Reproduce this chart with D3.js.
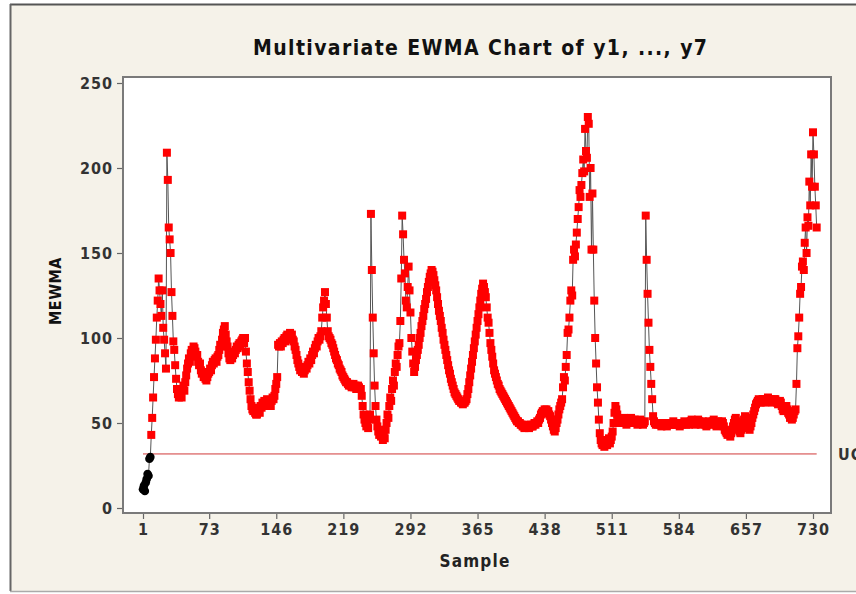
<!DOCTYPE html>
<html><head><meta charset="utf-8">
<script src="https://cdn.jsdelivr.net/npm/d3@7/dist/d3.min.js"></script>
<style>body{margin:0;background:#fff;} svg{display:block}</style>
</head><body>
<svg id="c" width="856" height="594"></svg>
<script>
const chartTitle = "Multivariate EWMA Chart of y1, ..., y7";
const xLabel = "Sample";
const yLabel = "MEWMA";
const uclLabel = "UCL=31.8";
const ucl = 31.8;
const xTicks = [1, 73, 146, 219, 292, 365, 438, 511, 584, 657, 730];
const yTicks = [0, 50, 100, 150, 200, 250];

// MEWMA statistic, samples 1..734
const mewma = [
  11, 13, 10, 15, 17, 20, 19, 29, 30,
  43, 53, 65, 77, 88,
  99, 112, 122, 135, 128, 120, 113, 128, 106, 99, 91, 82,
  209, 193, 165, 158, 150, 127, 113, 98, 93, 84, 76, 70, 67, 65,
  66, 68, 65, 70, 72, 69, 74, 78,
  82, 85, 88, 86, 91, 93, 90, 95, 94,
  92, 89, 90, 86, 84, 85, 81, 79, 80, 77, 78, 76, 75, 77,
  79, 80, 82, 81, 84, 86, 85, 87, 88, 86, 89, 90,
  93, 96, 95, 99, 103, 105, 107,
  102, 98, 95, 91, 88, 87,
  89, 88, 90, 92, 91, 93, 95, 94, 96, 97, 95, 98, 99, 100, 97, 100,
  92, 85, 80, 74, 69,
  64, 60, 58, 57, 59, 56, 55, 55, 57, 58, 56, 60, 59, 62,
  61, 63, 60, 62, 64, 61, 63, 62, 60, 63, 65, 64, 66, 70, 73, 77,
  96, 95, 97, 95, 98, 97, 99, 100, 98, 101, 102, 100, 101, 103, 100, 102, 99, 98, 95, 93,
  90, 87, 85, 83, 81, 82, 80, 82, 79, 81, 83, 82, 84, 86, 85, 88, 87, 90, 92, 91,
  94, 96, 95, 98, 100, 99, 101, 104, 112, 118, 122, 127, 120, 112, 104, 101, 100,
  99, 97, 96, 94, 92, 90, 88, 87, 85, 84, 82, 81, 80, 78, 77, 76, 75, 74, 74, 73, 72, 73,
  72, 71, 72, 73, 71, 72, 70, 71, 72, 71, 70,
  70, 66, 60, 55, 52, 50, 48, 50, 47, 52, 55,
  173, 140, 112, 91, 72, 60, 52, 48,
  45, 43, 46, 42, 44, 40, 43, 41, 46, 50,
  55, 53, 60, 65, 63, 70, 75, 72, 80, 85, 83, 90, 95,
  97, 110, 135, 172, 161, 146, 138, 122, 118, 130, 142, 128, 115, 100, 92, 85, 80, 83, 87, 90,
  93, 96, 100, 103, 107, 110, 113, 117, 120, 123, 127, 130, 133, 136, 138, 140,
  139, 137, 134, 131, 128, 124, 120, 116, 113, 110, 106, 103, 99, 96, 93, 90, 87, 84, 81, 79,
  76, 74, 72, 70, 68, 67, 66, 65, 64, 63, 63,
  62, 62, 61, 62, 62, 63, 64,
  67, 70, 74, 78, 82, 86, 90, 94, 98, 102, 106, 110, 114, 118, 122, 126, 129, 132,
  130, 127, 124, 118, 112, 109, 103, 97, 93, 89, 85, 81, 79, 77, 75, 73, 72, 70, 69, 68,
  67, 66, 65, 64, 63, 62, 61, 60, 59, 58, 57, 56, 55, 54, 53, 52, 51, 51, 50, 50,
  49, 49, 48, 48, 47, 48, 48, 49, 48, 47, 48, 49, 48, 48, 49, 50, 49, 50, 51, 50,
  52, 53, 55, 56, 57, 56, 58, 57, 58, 56, 57, 55, 54, 52, 50, 48, 46, 45, 47, 50,
  52, 55, 58,
  60, 62, 64, 71, 77, 75, 83, 90, 103, 105, 112, 122, 128, 125, 146, 152, 148, 155, 162, 170,
  177, 187, 183, 190, 197, 205, 198, 223, 210, 206, 230, 226, 183, 200, 152, 185, 152, 122, 100, 85,
  71, 62, 52, 44,
  40, 38, 37, 39, 36, 38, 40, 37, 39, 41, 38, 40, 42, 45,
  50, 56, 60, 58, 55, 52, 50, 51,
  52, 50, 51, 53, 52, 50, 49, 51, 52, 50, 51, 53, 52, 51, 50, 52, 51, 50, 49, 51,
  50, 52, 51, 50, 49, 50, 51,
  172, 146, 126, 109, 93, 83, 73, 64, 54,
  51, 50, 49, 50, 49, 50, 50, 49, 48, 49, 50, 50, 49, 49, 48, 49, 50, 50, 49, 49,
  50, 51, 50, 49, 49, 50, 50, 49, 48, 49, 49, 50, 50, 51, 50, 49, 50, 50, 49, 50,
  51, 52, 51, 50, 50, 49, 50, 51, 52, 51, 50, 49, 50, 51, 50, 50, 49, 48, 49, 50,
  51, 50, 49, 50, 51, 52, 50, 49, 48, 50, 51, 50, 49, 50, 51, 50,
  48, 46, 45, 44, 43, 45, 44, 42, 44, 46, 48, 50, 52, 53, 51, 49, 47, 45, 44, 46,
  48, 50, 52, 54, 53, 51, 49, 47, 46, 48, 50, 53, 55, 57, 59, 61, 62,
  63, 64, 63, 62, 63, 64, 64, 63, 62, 63, 64, 65, 64, 63, 64, 63, 62, 63, 64, 64,
  63, 62, 61, 62, 63, 62, 60, 58,
  57, 58, 59, 60, 58, 56, 55, 53, 54, 52, 53, 55, 57, 58,
  73, 94, 101, 112, 126, 130, 142, 145, 140, 156, 165, 150, 171, 166, 192, 178, 208, 189, 221, 208,
  189, 178, 165
];
const samples = mewma.map((_, i) => i + 1);

const svg = d3.select("#c");
const W = 856, H = 594;
const plot = {left: 123, right: 831, top: 77, bottom: 513};

// outer frame
svg.append("rect").attr("x", 0).attr("y", 0).attr("width", W).attr("height", H).attr("fill", "#ffffff");
svg.append("rect").attr("x", 10).attr("y", 4).attr("width", W).attr("height", 587)
  .attr("fill", "#f5f2e9");
svg.append("line").attr("x1", 10).attr("x2", W).attr("y1", 4.5).attr("y2", 4.5).attr("stroke", "#555").attr("stroke-width", 2);
svg.append("line").attr("x1", 10.5).attr("x2", 10.5).attr("y1", 4).attr("y2", 591).attr("stroke", "#666").attr("stroke-width", 2);
svg.append("line").attr("x1", 10).attr("x2", W).attr("y1", 591.5).attr("y2", 591.5).attr("stroke", "#aaa").attr("stroke-width", 1.5);

// scales: sample 1 at 143px, 730 at 813px; 0 at 508px, 250 at 83px
const kx = (813 - 143) / 729;
const x = d3.scaleLinear()
  .domain([1 - (143 - plot.left) / kx, 730 + (plot.right - 813) / kx])
  .range([plot.left, plot.right]);
const ky = (508 - 83) / 250;
const y = d3.scaleLinear()
  .domain([-(plot.bottom - 508) / ky, 250 + (83 - plot.top) / ky])
  .range([plot.bottom, plot.top]);

// plot background
svg.append("rect").attr("x", plot.left).attr("y", plot.top)
  .attr("width", plot.right - plot.left).attr("height", plot.bottom - plot.top)
  .attr("fill", "#fff").attr("stroke", "#7a7a7a").attr("stroke-width", 2);

const tickFont = "'DejaVu Sans Condensed', 'DejaVu Sans', sans-serif";

// axes
const xAxis = svg.append("g").attr("transform", `translate(0,${plot.bottom + 1})`)
  .call(d3.axisBottom(x).tickValues(xTicks).tickSize(5).tickPadding(5));
const yAxis = svg.append("g").attr("transform", `translate(${plot.left - 1},0)`)
  .call(d3.axisLeft(y).tickValues(yTicks).tickSize(5).tickPadding(4));
[xAxis, yAxis].forEach(g => {
  g.select(".domain").remove();
  g.selectAll(".tick line").attr("stroke", "#666").attr("stroke-width", 1.2);
  g.selectAll(".tick text").attr("fill", "#333").style("font-family", tickFont)
    .style("font-stretch", "condensed")
    .style("font-size", "16px").style("font-weight", "bold").style("letter-spacing", "1px");
});

// UCL line
svg.append("line")
  .attr("x1", x(1)).attr("x2", x(samples.length))
  .attr("y1", y(ucl)).attr("y2", y(ucl))
  .attr("stroke", "#d03a3a").attr("stroke-width", 1);
svg.append("text").attr("x", 838).attr("y", y(ucl)).attr("dy", "0.35em")
  .attr("fill", "#333").style("font-family", tickFont).style("font-size", "16px")
  .style("font-stretch", "condensed")
  .style("font-weight", "bold").style("letter-spacing", "1px").text(uclLabel);

// connecting line
const data = samples.map((s, i) => ({s, v: mewma[i]}));
svg.append("path").datum(data)
  .attr("fill", "none").attr("stroke", "#555").attr("stroke-width", 1)
  .attr("d", d3.line().x(d => x(d.s)).y(d => y(d.v)));

// markers
const msz = 8;
svg.append("g").selectAll("rect").data(data.filter(d => d.v > ucl)).join("rect")
  .attr("x", d => x(d.s) - msz / 2).attr("y", d => y(d.v) - msz / 2)
  .attr("width", msz).attr("height", msz).attr("fill", "#ff0000");
svg.append("g").selectAll("circle").data(data.filter(d => d.v <= ucl)).join("circle")
  .attr("cx", d => x(d.s)).attr("cy", d => y(d.v)).attr("r", 4.3).attr("fill", "#000");

// titles
svg.append("text").attr("x", 253).attr("y", 55)
  .attr("textLength", 454).attr("lengthAdjust", "spacing")
  .attr("fill", "#111").style("font-family", tickFont).style("font-size", "21px")
  .style("font-stretch", "condensed")
  .style("font-weight", "bold").text(chartTitle);
svg.append("text").attr("x", 475).attr("y", 567).attr("text-anchor", "middle")
  .attr("fill", "#222").style("font-family", tickFont).style("font-size", "17px")
  .style("font-stretch", "condensed")
  .style("font-weight", "bold").style("letter-spacing", "1.2px").text(xLabel);
svg.append("text").attr("transform", `translate(61,291) rotate(-90)`)
  .attr("text-anchor", "middle")
  .attr("fill", "#111").style("font-family", tickFont).style("font-size", "16px")
  .style("font-stretch", "condensed")
  .style("font-weight", "bold").style("letter-spacing", "0.5px").text(yLabel);
</script>
</body></html>
